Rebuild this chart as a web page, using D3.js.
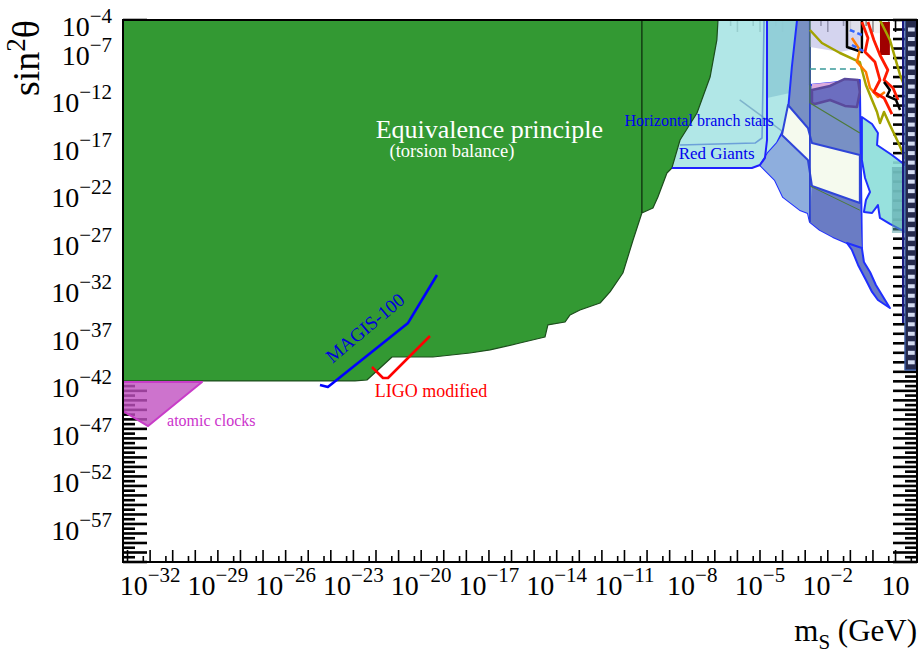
<!DOCTYPE html>
<html><head><meta charset="utf-8">
<script src="https://cdn.jsdelivr.net/npm/d3@7"></script>
<style>body{margin:0;background:#fff} svg{display:block} text{font-family:"Liberation Serif","Times New Roman",serif}</style>
</head><body><svg id="c" width="921" height="656"></svg>
<script>
// ---- data: pairs are [log10 m_S (GeV), log10 sin^2(theta)] ----
const xTickExps = [-32,-29,-26,-23,-20,-17,-14,-11,-8,-5,-2,1];
const yTickExps = [-4,-7,-12,-17,-22,-27,-32,-37,-42,-47,-52,-57];
const xDomainExp = [-33.2, 1.95];
const yDomainExp = [-61, -4];

const equivalencePrinciple = [[-33.2,-4],[-6.86,-4],[-6.91,-6.10],[-7.21,-10.0],[-7.79,-13.78],[-8.54,-16.62],[-8.90,-19.56],[-9.12,-20.09],[-9.52,-22.61],[-9.74,-23.77],[-10.23,-24.30],[-10.62,-27.14],[-11.07,-30.61],[-11.64,-32.60],[-12.08,-33.76],[-12.97,-34.50],[-13.41,-35.02],[-13.63,-35.76],[-14.39,-36.07],[-14.52,-37.34],[-15.63,-37.97],[-16.95,-38.70],[-17.84,-39.02],[-19.48,-39.44],[-21.29,-39.44],[-21.82,-40.60],[-22.40,-41.86],[-22.93,-41.96],[-33.2,-41.96]];
const epDivider = [[-10.23,-4],[-10.23,-24.30]];
const atomicClocks = [[-33.2,-42.07],[-29.70,-42.07],[-32.09,-46.70],[-33.2,-45.12]];
const magis100 = [[-24.48,-42.38],[-24.13,-42.59],[-20.58,-35.86],[-19.30,-30.82]];
const ligoModified = [[-22.18,-40.49],[-21.69,-41.65],[-21.47,-41.65],[-19.61,-37.23]];

const redGiantsFill = [[-10.31,-4],[-3.36,-4],[-3.59,-8.94],[-3.81,-14.83],[-4.25,-16.94],[-4.65,-17.99],[-5.00,-19.25],[-5.36,-19.56],[-10.31,-19.56]];
const tealBand = [[-4.69,-4],[-3.36,-4],[-3.54,-8.21],[-3.67,-11.68],[-4.69,-12.20]];
const hbBorder = [[-8.54,-17.15],[-5.22,-16.94],[-4.91,-16.41],[-4.82,-4]];
const rgBorder = [[-8.90,-19.56],[-5.36,-19.56],[-5.00,-19.25],[-4.78,-18.51],[-4.69,-16.62],[-4.69,-4]];
const stellarEnvelope = [[-3.36,-4],[-2.79,-4],[-2.79,-10.84],[-0.58,-10.31],[-0.49,-27.98],[-1.15,-27.45],[-1.77,-26.82],[-2.35,-26.08],[-2.79,-25.24],[-2.88,-24.30],[-3.23,-23.98],[-3.98,-22.61],[-4.34,-20.83],[-5.00,-19.25],[-4.65,-17.99],[-4.25,-16.94],[-3.81,-14.83],[-3.59,-8.94]];
const lowerLeftBand = [[-4.03,-16.09],[-2.88,-18.72],[-2.70,-21.46],[-2.79,-25.24],[-2.88,-24.30],[-3.23,-23.98],[-3.98,-22.61],[-4.34,-20.83],[-5.00,-19.25],[-4.65,-17.99],[-4.25,-16.94]];
const lowerDarkBand = [[-2.70,-21.46],[-0.58,-23.24],[-0.49,-27.98],[-1.15,-27.45],[-1.77,-26.82],[-2.35,-26.08],[-2.79,-25.24]];
const ivoryBand = [[-3.76,-12.94],[-2.88,-15.36],[-2.70,-16.94],[-0.58,-18.20],[-0.58,-23.24],[-2.70,-21.46],[-2.88,-18.72],[-4.03,-16.09]];
const tendril = [[-1.15,-27.45],[-0.49,-27.98],[-0.40,-29.45],[-0.13,-30.50],[0.13,-31.87],[0.75,-34.29],[0.22,-33.45],[-0.04,-32.60],[-0.31,-31.34],[-0.66,-29.76],[-0.93,-28.19]];
const purpleBlob = [[-2.70,-11.36],[-1.90,-10.94],[-1.24,-10.20],[-0.66,-10.31],[-0.58,-11.57],[-0.71,-13.15],[-1.24,-13.04],[-1.90,-12.41],[-2.57,-12.83],[-2.70,-12.73]];
const pinkBand = [[-2.70,-10.73],[-1.68,-10.52],[-1.68,-11.05],[-2.70,-11.36]];
const lavenderTop = [[-2.79,-4],[-0.58,-4],[-0.58,-6.94],[-1.46,-7.37],[-2.79,-6.84]];
const greyTop = [[-1.15,-4],[0.75,-4],[0.75,-5.4],[-1.15,-5.4]];
const darkRedBlock = [[0.31,-4.21],[0.75,-4.21],[0.75,-7.68],[0.31,-7.68]];
const rightCyan = [[-0.49,-14.20],[-0.04,-14.94],[0.22,-15.88],[0.18,-17.15],[0.84,-18.20],[1.42,-19.25],[1.95,-19.77],[1.95,-26.50],[1.42,-26.29],[0.75,-25.45],[0.31,-24.82],[0.22,-23.46],[-0.04,-24.30],[-0.40,-24.19],[-0.31,-22.93],[-0.13,-22.09],[-0.35,-20.62],[-0.49,-18.72]];
const hatchedTeal = [[0.84,-19.46],[1.95,-19.46],[1.95,-26.40],[0.84,-26.40]];
const navyBand = [[1.42,-4],[1.95,-4],[1.95,-40.81],[1.42,-40.81]];
const thinBlueLine = [[1.33,-4],[1.33,-35.86]];
const innerBlueLine = [[-2.79,-10.84],[-2.79,-25.24]];
const darkGreenLine = [[-2.79,-4],[-2.79,-12.73],[-0.58,-15.88]];
const dashedTeal = [[-2.79,-9.15],[-0.58,-9.15]];
const oliveLine1 = [[-2.79,-5.05],[-2.26,-6.42],[-1.46,-7.47],[-0.58,-8.42],[-0.31,-10.84],[-0.04,-12.41],[0.18,-13.68],[0.31,-14.83],[0.49,-13.68],[0.75,-15.04],[1.11,-16.83],[1.42,-18.51],[1.95,-19.98]];
const oliveLine2 = [[0.31,-4],[0.75,-6.10],[1.20,-9.78],[1.64,-12.41],[1.95,-13.68]];
const redLine1 = [[-0.49,-4.21],[-0.22,-5.89],[-0.35,-7.37],[0.09,-8.42],[0.31,-10.31],[0.04,-11.57],[0.49,-12.20],[0.84,-13.89]];
const redLine2 = [[-0.22,-4.21],[0.04,-6.10],[0.31,-7.68],[0.66,-9.26],[0.49,-10.31],[0.89,-11.15],[1.11,-12.41]];
const orangeLine = [[-0.93,-5.89],[-0.58,-7.15],[-0.71,-8.42],[-0.31,-9.47],[-0.13,-11.15],[0.22,-12.10],[0.53,-11.57]];
const blackLine = [[0.49,-10.52],[0.75,-11.36],[0.62,-11.99],[1.02,-12.41],[1.20,-13.46]];
const blackBox = [[-1.15,-4],[-1.15,-6.84],[-0.49,-7.37],[-0.49,-4]];
const blueDash1 = [[-1.02,-5.05],[-0.49,-5.58]];
const blueDash2 = [[-0.93,-6.63],[-0.35,-7.37]];

// ---- scales ----
const W = 921, H = 656;
const x = d3.scaleLog().domain(xDomainExp.map(e => 10 ** e)).range([123, 917]);
const y = d3.scaleLog().domain(yDomainExp.map(e => 10 ** e)).range([562, 20]);
const X = e => x(10 ** e), Y = e => y(10 ** e);
const line = d3.line().x(d => X(d[0])).y(d => Y(d[1]));
const svg = d3.select("#c");
svg.append("rect").attr("width", W).attr("height", H).attr("fill", "#fff");

svg.append("clipPath").attr("id", "pc").append("rect")
  .attr("x", 123).attr("y", 20).attr("width", 794).attr("height", 542);

// ---- frame ticks (drawn under the regions) ----
const gt = svg.append("g").attr("stroke", "#000");
const yMaj = d3.range(yDomainExp[0], yDomainExp[1] + 1);
const yMin = yMaj.map(k => k + 0.5).filter(k => k < yDomainExp[1]);
const xMaj = d3.range(Math.ceil(xDomainExp[0]), Math.floor(xDomainExp[1]) + 1);
const xMin = d3.range(Math.ceil(xDomainExp[0]), Math.floor(xDomainExp[1]) + 2).map(k => k - 1 + Math.log10(5)).filter(k => k > xDomainExp[0] && k < xDomainExp[1]);
function hTicks(vals, x0, len, sw) {
  gt.append("g").selectAll("line").data(vals).join("line")
    .attr("x1", x0).attr("x2", x0 + len).attr("y1", d => Y(d)).attr("y2", d => Y(d)).attr("stroke-width", sw);
}
function vTicks(vals, y0, len, sw) {
  gt.append("g").selectAll("line").data(vals).join("line")
    .attr("y1", y0).attr("y2", y0 + len).attr("x1", d => X(d)).attr("x2", d => X(d)).attr("stroke-width", sw);
}
hTicks(yMaj, 123, 24, 2.6); hTicks(yMin, 123, 12, 2.6);
hTicks(yMaj, 917, -24, 2.6); hTicks(yMin, 917, -12, 2.6);
vTicks(xMaj, 562, -12, 1.6); vTicks(xMin, 562, -6, 1.6);
vTicks(xMaj, 20, 12, 1.6); vTicks(xMin, 20, 6, 1.6);

// ---- regions ----
const g = svg.append("g").attr("clip-path", "url(#pc)");
function area(data, fill, opts = {}) {
  g.append("path").datum(data).attr("d", d => line(d) + "Z")
    .attr("fill", fill).attr("fill-opacity", opts.fo ?? 1)
    .attr("stroke", opts.stroke ?? "none").attr("stroke-width", opts.sw ?? 1)
    .attr("stroke-linejoin", "round");
}
function path(data, stroke, sw, opts = {}) {
  g.append("path").datum(data).attr("d", line).attr("fill", "none")
    .attr("stroke", stroke).attr("stroke-width", sw).attr("stroke-linejoin", "round")
    .attr("stroke-dasharray", opts.dash ?? null).attr("stroke-opacity", opts.so ?? 1);
}
area(redGiantsFill, "#a8e4e4", {fo: 0.9});
area(tealBand, "#8fccd6", {fo: 0.9});
path([[-5.9,-12.4],[-3.9,-15.9]], "#7fb4cc", 1.5);
area(stellarEnvelope, "#7890c4", {stroke: "#1f2fff", sw: 2});
area(lowerLeftBand, "#8eaedd");
area(lowerDarkBand, "#6a7cc4");
area(ivoryBand, "#f5faee", {stroke: "#2f45d8", sw: 2});
area(tendril, "#6a7cc4", {stroke: "#1f2fff", sw: 2});
area(lavenderTop, "#c6c6ea", {fo: 0.75});
area(greyTop, "#e6e6e6", {fo: 0.6});
area(pinkBand, "#ddaadd");
area(purpleBlob, "#6c6ec0", {stroke: "#5a4a9c", sw: 2.5});
path(innerBlueLine, "#2a3fd0", 1.8);
path(darkGreenLine, "#4d7a3a", 1.2);
path([[-2.79,-21.46],[-0.58,-24.0]], "#4d7a3a", 1);
path(dashedTeal, "#3a9a9a", 1.5, {dash: "6,4"});
area(rightCyan, "#8cded9", {fo: 0.9, stroke: "#1f2fff", sw: 2});
area(hatchedTeal, "#5aa3a6", {fo: 0.55});
area(darkRedBlock, "#a00000");
path(blackBox, "#000", 2.5);
path(oliveLine1, "#a3a300", 2.5);
path(oliveLine2, "#a3a300", 2.5);
path(orangeLine, "#ff7a00", 2.5);
path(redLine1, "#ff1a00", 2.8);
path(redLine2, "#ff1a00", 2.8);
path(blackLine, "#000", 2.5);
path(blueDash1, "#3366ff", 2.5, {dash: "5,3"});
path(blueDash2, "#3366ff", 2.5, {dash: "5,3"});
path(thinBlueLine, "#1a1a80", 2);
area(navyBand, "#252a4d", {stroke: "#3a5aa0", sw: 1.5});
g.append("g").selectAll("rect").data(d3.range(-40, -4)).join("rect")
  .attr("x", X(1.55)).attr("width", X(1.85) - X(1.55))
  .attr("y", d => Y(d) - 2).attr("height", 4).attr("fill", "#d4dcf2");

// Equivalence principle (opaque, covers everything left)
area(equivalencePrinciple, "#339933", {stroke: "#1c4d1c", sw: 1.2});
path(epDivider, "#143d14", 1.5);
area(atomicClocks, "#c050c0", {fo: 0.8, stroke: "#c83cc8", sw: 2});
path(magis100, "#0000ff", 2.6);
path(ligoModified, "#ff0000", 2.6);
path(hbBorder, "#5b8fd6", 1.6, {so: 0.8});
path(rgBorder, "#2020ff", 2);

// ---- labels inside the plot ----
function label(txt, px, py, size, fill, anchor = "start", rot = 0) {
  svg.append("text").attr("transform", `translate(${px},${py}) rotate(${rot})`)
    .attr("font-size", size).attr("fill", fill).attr("text-anchor", anchor).text(txt);
}
label("Equivalence principle", X(-16.98), Y(-16.4), 26, "#fff", "middle");
label("(torsion balance)", X(-18.64), Y(-18.4), 18.5, "#fff", "middle");
label("Horizontal branch stars", X(-11.0), Y(-15.2), 16, "#0000ee");
label("Red Giants", X(-8.6), Y(-18.6), 17, "#0000ee");
label("MAGIS-100", X(-22.3), Y(-36.9), 19, "#0000dd", "middle", -40);
label("LIGO modified", X(-22.05), Y(-43.7), 18, "#ff0000");
label("atomic clocks", X(-31.25), Y(-46.7), 16, "#cc33cc");

// ---- frame ----
svg.append("rect").attr("x", 123).attr("y", 20).attr("width", 794).attr("height", 542)
  .attr("fill", "none").attr("stroke", "#000").attr("stroke-width", 2);

// ---- tick labels ----
const sup = e => (e < 0 ? "\u2212" + (-e) : String(e));
const yl = svg.append("g").attr("text-anchor", "end");
yTickExps.forEach(e => {
  const t = yl.append("text").attr("x", 112).attr("y", Y(e) + 16).attr("font-size", 28);
  t.append("tspan").text("10");
  t.append("tspan").attr("dy", -13).attr("font-size", 21).text(sup(e));
});
const xl = svg.append("g").attr("text-anchor", "middle");
xTickExps.forEach(e => {
  const t = xl.append("text").attr("x", X(e)).attr("y", 595).attr("font-size", 28);
  t.append("tspan").text("10");
  if (e !== 1) t.append("tspan").attr("dy", -13).attr("font-size", 21).text(sup(e));
});

// ---- axis titles ----
const yt = svg.append("text").attr("transform", "translate(39,20) rotate(-90)")
  .attr("text-anchor", "end").attr("font-size", 38);
yt.append("tspan").text("sin");
yt.append("tspan").attr("dy", -14).attr("font-size", 27).text("2");
yt.append("tspan").attr("dy", 14).text("\u03b8");
const xt = svg.append("text").attr("x", 917).attr("y", 641).attr("text-anchor", "end").attr("font-size", 31);
xt.append("tspan").text("m");
xt.append("tspan").attr("dy", 8).attr("font-size", 21).text("S");
xt.append("tspan").attr("dy", -8).text(" (GeV)");
</script></body></html>
